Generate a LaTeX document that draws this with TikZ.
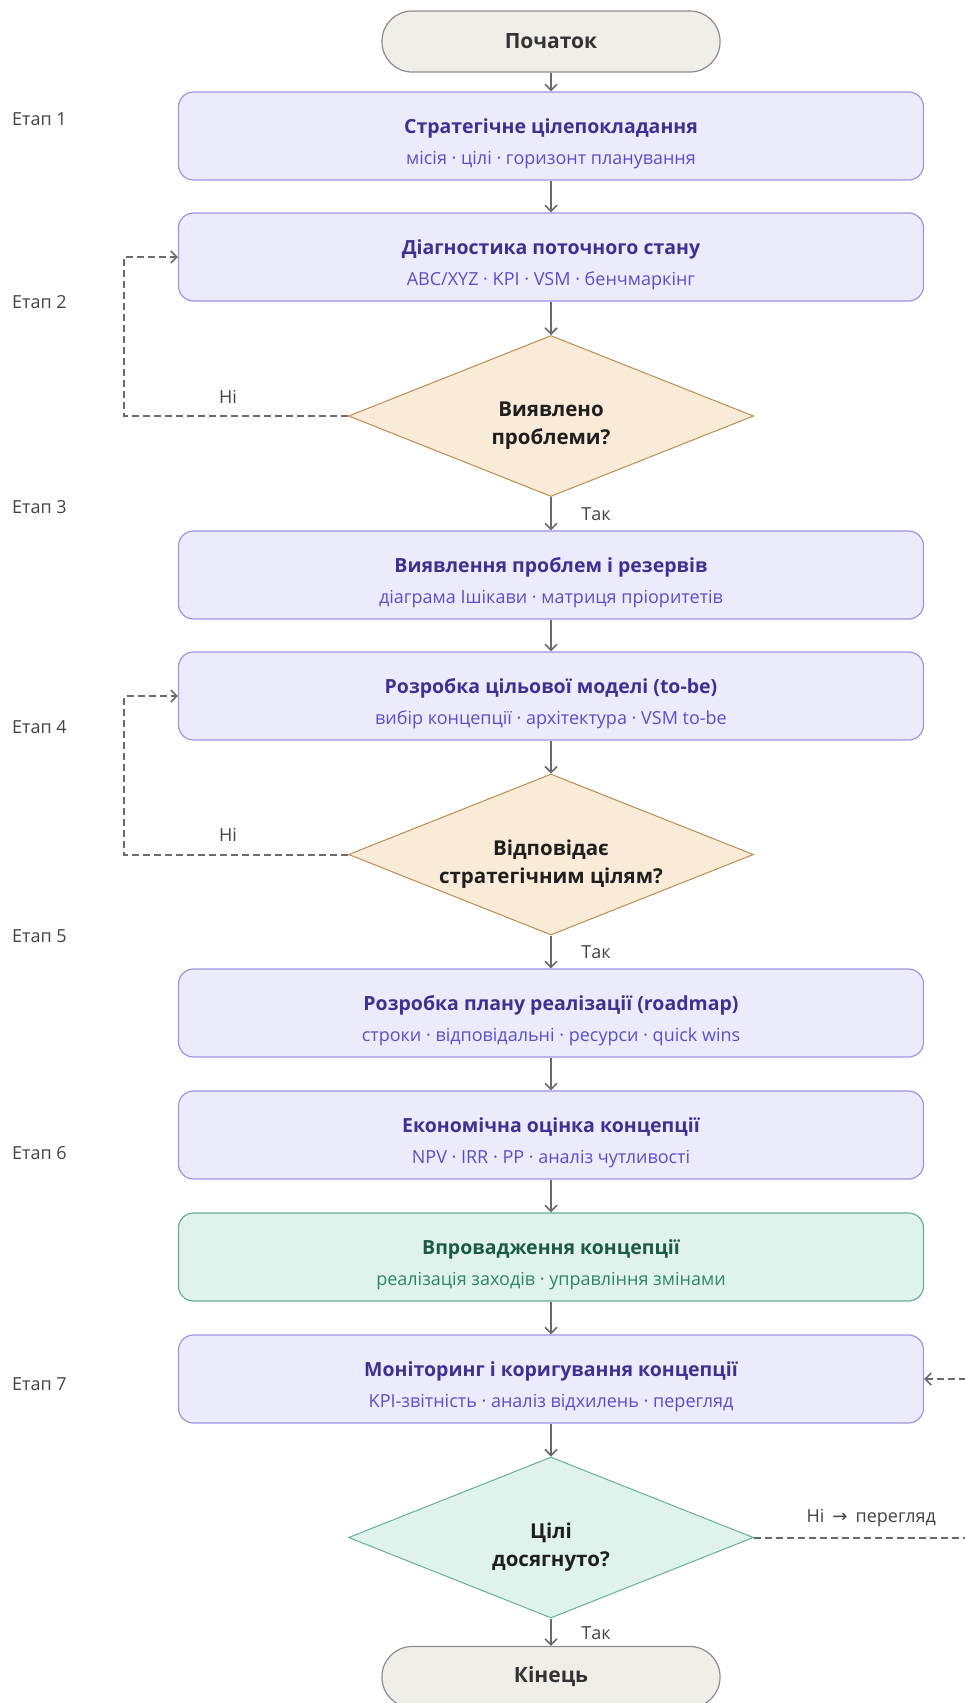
\documentclass[tikz,border=0pt]{standalone}
\usepackage{fontspec}
\setmainfont{Open Sans}
\newfontfamily\symfont{DejaVu Sans}
\usetikzlibrary{arrows.meta,shapes.geometric}
\definecolor{boxfill}{HTML}{ECEBFC}
\definecolor{boxline}{HTML}{9D94E3}
\definecolor{boxtitle}{HTML}{3D3192}
\definecolor{boxsub}{HTML}{5B4FC9}
\definecolor{amberfill}{HTML}{FAEBD8}
\definecolor{amberline}{HTML}{B98C4F}
\definecolor{greenfill}{HTML}{DFF3EC}
\definecolor{greenline}{HTML}{66B096}
\definecolor{greentitle}{HTML}{1C5A43}
\definecolor{greensub}{HTML}{2E8663}
\definecolor{termfill}{HTML}{F1EEE7}
\definecolor{termline}{HTML}{8C8C8C}
\definecolor{termtext}{HTML}{333333}
\definecolor{arrowgray}{HTML}{6A6A6A}
\definecolor{labelgray}{HTML}{444444}
\tikzset{
  box/.style={draw=boxline, fill=boxfill, line width=1.2pt, rounded corners=15pt,
    minimum width=745pt, minimum height=88pt, inner sep=0pt},
  greenbox/.style={draw=greenline, fill=greenfill},
  ttl/.style={anchor=base, font=\fontsize{19.5}{23}\selectfont\bfseries, text=boxtitle, inner sep=0pt},
  sub/.style={anchor=base, font=\fontsize{18}{21}\selectfont, text=boxsub, inner sep=0pt},
  greenttl/.style={text=greentitle},
  greensub/.style={text=greensub},
  term/.style={draw=termline, fill=termfill, line width=1.2pt, rounded corners=30pt,
    minimum width=338pt, minimum height=61pt, inner sep=0pt,
    font=\fontsize{21}{24}\selectfont\bfseries, text=termtext},
  decision/.style={diamond, draw=amberline, fill=amberfill, line width=1pt,
    minimum width=405pt, minimum height=161pt, inner sep=0pt},
  greendec/.style={draw=greenline, fill=greenfill},
  dtext/.style={align=center, inner sep=0pt,
    font=\fontsize{20.5}{28}\selectfont\bfseries, text=black!88},
  etap/.style={anchor=west, font=\fontsize{18}{21}\selectfont, text=labelgray, inner sep=0pt},
  lbl/.style={font=\fontsize{18}{21}\selectfont, text=labelgray, inner sep=0pt},
  flow/.style={draw=arrowgray, line width=1.6pt, -{Straight Barb[length=6pt,width=12pt,line width=1.6pt]}},
  back/.style={flow, line width=2pt, dash pattern=on 7pt off 4pt}
}
\begin{document}
\begin{tikzpicture}[x=1pt,y=-1pt]
\useasboundingbox (0,0) rectangle (965,1703);
\clip (0,0) rectangle (965,1703);

\node[term] (start) at (551,41.5) {Початок};

\node[box] (b1) at (551,136) {};
\node[ttl] (b1t) at (551,133) {Стратегічне цілепокладання};
\node[sub] (b1s) at (551,164) {місія · цілі · горизонт планування};

\node[box] (b2) at (551,257) {};
\node[ttl] (b2t) at (551,254) {Діагностика поточного стану};
\node[sub] (b2s) at (551,285) {ABC/XYZ · KPI · VSM · бенчмаркінг};

\node[decision] (d1) at (551,416) {};
\node[dtext] (d1t) at (551,426) {Виявлено\\проблеми?};

\node[box] (b3) at (551,575) {};
\node[ttl] (b3t) at (551,572) {Виявлення проблем і резервів};
\node[sub] (b3s) at (551,603) {діаграма Ішікави · матриця пріоритетів};

\node[box] (b4) at (551,696) {};
\node[ttl] (b4t) at (551,693) {Розробка цільової моделі (to-be)};
\node[sub] (b4s) at (551,724) {вибір концепції · архітектура · VSM to-be};

\node[decision] (d2) at (551,854.5) {};
\node[dtext] (d2t) at (551,864.5) {Відповідає\\стратегічним цілям?};

\node[box] (b5) at (551,1013) {};
\node[ttl] (b5t) at (551,1010) {Розробка плану реалізації (roadmap)};
\node[sub] (b5s) at (551,1041) {строки · відповідальні · ресурси · quick wins};

\node[box] (b6) at (551,1135) {};
\node[ttl] (b6t) at (551,1132) {Економічна оцінка концепції};
\node[sub] (b6s) at (551,1163) {NPV · IRR · PP · аналіз чутливості};

\node[box,greenbox] (b7) at (551,1257) {};
\node[ttl,greenttl] (b7t) at (551,1254) {Впровадження концепції};
\node[sub,greensub] (b7s) at (551,1285) {реалізація заходів · управління змінами};

\node[box] (b8) at (551,1379) {};
\node[ttl] (b8t) at (551,1376) {Моніторинг і коригування концепції};
\node[sub] (b8s) at (551,1407) {KPI-звітність · аналіз відхилень · перегляд};

\node[decision,greendec] (d3) at (551,1537.5) {};
\node[dtext] (d3t) at (551,1547.5) {Цілі\\досягнуто?};

\node[term] (end) at (551,1677) {Кінець};

% stage labels
\node[etap] (e1) at (12,119) {Етап 1};
\node[etap] (e2) at (12,302) {Етап 2};
\node[etap] (e3) at (12,507) {Етап 3};
\node[etap] (e4) at (12,727) {Етап 4};
\node[etap] (e5) at (12,936) {Етап 5};
\node[etap] (e6) at (12,1153) {Етап 6};
\node[etap] (e7) at (12,1384) {Етап 7};

% main flow
\draw[flow] (start) -- (b1);
\draw[flow] (b1) -- (b2);
\draw[flow] (b2) -- (d1);
\draw[flow] (d1) -- (b3);
\draw[flow] (b3) -- (b4);
\draw[flow] (b4) -- (d2);
\draw[flow] (d2) -- (b5);
\draw[flow] (b5) -- (b6);
\draw[flow] (b6) -- (b7);
\draw[flow] (b7) -- (b8);
\draw[flow] (b8) -- (d3);
\draw[flow] (d3) -- (end);
\node[lbl] (y1) at (596,514) {Так};
\node[lbl] (y2) at (596,952) {Так};
\node[lbl] (y3) at (596,1633) {Так};

% feedback loops
\coordinate (l1a) at (124,416);
\coordinate (l1b) at (124,257);
\draw[back] (d1.west) -- (l1a) -- (l1b) -- (b2.west);
\node[lbl] (n1) at (228,397) {Ні};

\coordinate (l2a) at (124,854.5);
\coordinate (l2b) at (124,696);
\draw[back] (d2.west) -- (l2a) -- (l2b) -- (b4.west);
\node[lbl] (n2) at (228,835) {Ні};

\coordinate (l3a) at (995,1537.5);
\coordinate (l3b) at (995,1379);
\draw[back] (d3.east) -- (l3a) -- (l3b) -- (b8.east);
\node[lbl, anchor=east] (n3) at (936,1518) {Ні\hspace{0.45em}{\symfont →}\hspace{0.45em}перегляд};
\end{tikzpicture}
\end{document}
